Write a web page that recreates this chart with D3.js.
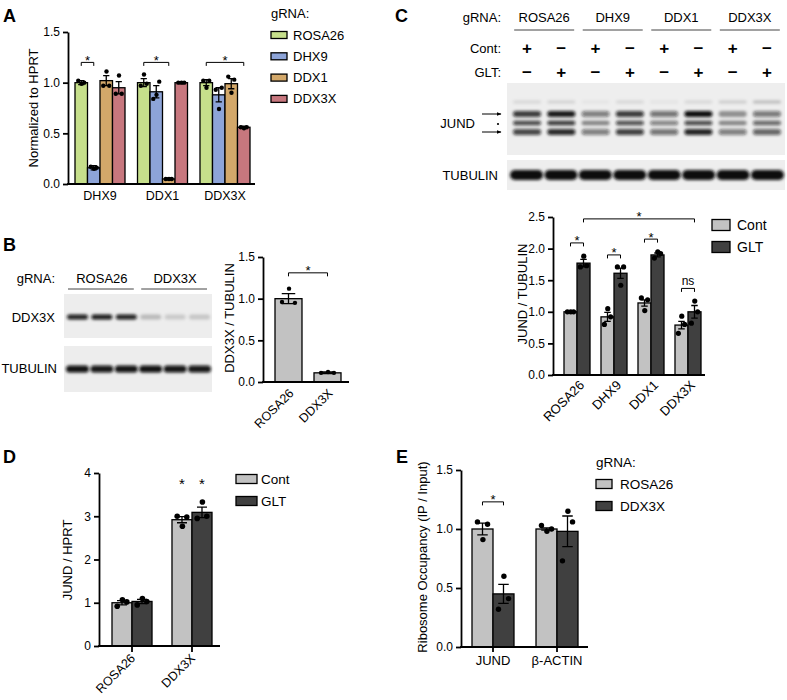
<!DOCTYPE html>
<html><head><meta charset="utf-8">
<script src="https://cdn.jsdelivr.net/npm/d3@7"></script>
<style>body{margin:0;background:#fff;} svg{display:block;font-family:"Liberation Sans",Arial,Helvetica,sans-serif;}</style>
</head><body><svg id="c" width="787" height="700"></svg>
<script>
// ================= DATA =================
// Panel A
const aGroups = ["DHX9","DDX1","DDX3X"];
const aSeries = ["ROSA26","DHX9","DDX1","DDX3X"];
const aColors = ["#c6df8b","#8da4d8","#d3a86a","#c7777e"];
const aMean = [[1.00,1.00,1.00],[0.16,0.91,0.88],[1.02,0.05,0.99],[0.95,1.00,0.56]];
const aErr  = [[0.02,0.04,0.03],[0.02,0.06,0.07],[0.05,0.01,0.05],[0.06,0.01,0.01]];
const aPts = [
 [[1.02,0.99,1.00],[0.97,1.08,0.99],[1.02,0.95,1.02]],
 [[0.17,0.15,0.16],[0.84,0.88,1.01],[0.93,0.74,0.95]],
 [[0.97,1.11,0.97],[0.05,0.05,0.05],[1.06,0.90,1.03]],
 [[0.89,1.07,0.89],[1.00,1.00,1.00],[0.56,0.55,0.56]]];
const aTicks = [0,0.5,1.0,1.5];
const aSig = [[0,0,0,1,1.2,"*"],[1,0,1,2,1.2,"*"],[2,0,2,3,1.2,"*"]];

// Panel B (blot + bar)
const bLanes = [0,1,2,3,4,5];
const bGroupsBlot = ["ROSA26","DDX3X"];
const bDDX3XBand = [0.92,0.95,0.92,0.22,0.15,0.17];
const bTubBand = [0.98,0.95,0.97,0.98,0.96,0.95];
const bGroups = ["ROSA26","DDX3X"];
const bSeries = ["val"];
const bMean = [[1.00,0.11]];
const bErr = [[0.06,0.01]];
const bPts = [[[0.96,1.12,0.95],[0.11,0.12,0.11]]];
const bTicks = [0,0.5,1.0,1.5];
const bSig = [[0,0,1,0,1.31,"*"]];

// Panel C (blot + bar)
const cBlotGroups = ["ROSA26","DHX9","DDX1","DDX3X"];
const cLanes = [0,1,2,3,4,5,6,7];
const cContSign = ["+","\u2212","+","\u2212","+","\u2212","+","\u2212"];
const cGltSign  = ["\u2212","+","\u2212","+","\u2212","+","\u2212","+"];
const cJundFaint = [0.10,0.12,0.04,0.10,0.05,0.10,0.15,0.22];
const cJundTop = [0.80,0.95,0.50,0.80,0.55,1.00,0.40,0.52];
const cJundMid = [0.75,0.82,0.45,0.72,0.50,0.75,0.45,0.62];
const cJundLow = [0.75,0.88,0.50,0.78,0.55,0.90,0.50,0.62];
const cTubBand = [1,1,1,1,1,1,1,1];
const cGroups = ["ROSA26","DHX9","DDX1","DDX3X"];
const cSeries = ["Cont","GLT"];
const cColors = ["#c2c2c2","#404040"];
const cMean = [[1.00,0.92,1.14,0.79],[1.77,1.61,1.90,1.00]];
const cErr  = [[0.00,0.07,0.05,0.06],[0.06,0.08,0.03,0.10]];
const cPts = [
 [[1.00,1.00,1.00],[0.80,1.05,0.92],[1.22,1.02,1.19],[0.66,0.93,0.80]],
 [[1.71,1.88,1.73],[1.71,1.42,1.71],[1.85,1.95,1.92],[0.82,1.17,1.00]]];
const cTicks = [0,0.5,1.0,1.5,2.0,2.5];
const cSig = [[0,0,0,1,2.09,"*"],[1,0,1,1,1.90,"*"],[2,0,2,1,2.15,"*"],[3,0,3,1,1.37,"ns"],[0,1,3,1,2.47,"*"]];

// Panel D
const dGroups = ["ROSA26","DDX3X"];
const dSeries = ["Cont","GLT"];
const dMean = [[1.00,2.92],[1.03,3.09]];
const dErr  = [[0.05,0.07],[0.05,0.12]];
const dPts = [[[0.92,1.07,1.02],[3.00,2.77,2.98]],[[0.95,1.10,1.03],[2.95,3.33,3.00]]];
const dTicks = [0,1,2,3,4];
const dStars = [[1,0,3.63,"*"],[1,1,3.63,"*"]];

// Panel E
const eGroups = ["JUND","\u03B2-ACTIN"];
const eSeries = ["ROSA26","DDX3X"];
const eMean = [[1.00,1.00],[0.45,0.98]];
const eErr  = [[0.05,0.01],[0.08,0.13]];
const ePts = [[[1.06,0.91,1.04],[1.03,0.98,1.00]],[[0.32,0.60,0.41],[0.73,1.15,1.06]]];
const eTicks = [0,0.5,1.0,1.5];
const eSig = [[0,0,0,1,1.23,"*"]];

// ================= DRAW =================
const svg = d3.select("#c");
const defs = svg.append("defs");
defs.append("filter").attr("id","blur").attr("x","-30%").attr("y","-200%").attr("width","160%").attr("height","500%")
  .append("feGaussianBlur").attr("stdDeviation",1.5);
defs.append("marker").attr("id","arr").attr("viewBox","0 0 10 10").attr("refX",9).attr("refY",5)
  .attr("markerWidth",5).attr("markerHeight",5).attr("orient","auto")
  .append("path").attr("d","M0,1 L10,5 L0,9 Z").attr("fill","#000");

function txt(x,y,s,o={}){
  return svg.append("text").attr("x",x).attr("y",y).attr("dy",o.dy||"0.35em")
    .attr("font-size",o.fs||13).attr("font-weight",o.fw||"normal")
    .attr("text-anchor",o.anchor||"start").attr("fill","#000").text(s);
}

function barPanel(c){
  const g = svg.append("g");
  const y = d3.scaleLinear().domain([0,c.yMax]).range([c.yB,c.yT]);
  const x0 = d3.scaleBand().domain(c.groups).range(c.gRange).paddingInner(c.pad).paddingOuter(0);
  const x1 = d3.scaleBand().domain(c.series).range([0,x0.bandwidth()]);
  const bw = x1.bandwidth();
  const cx = (gi,si)=> x0(c.groups[gi]) + x1(c.series[si]) + bw/2;
  const jit = [-0.24,0.02,0.24];
  c.series.forEach((s,si)=>c.groups.forEach((gr,gi)=>{
    const m=c.mean[si][gi];
    g.append("rect").attr("x",x0(gr)+x1(s)).attr("y",y(m)).attr("width",bw).attr("height",y(0)-y(m))
      .attr("fill",c.colors[si]).attr("stroke","#000").attr("stroke-width",1.3);
  }));
  c.series.forEach((s,si)=>c.groups.forEach((gr,gi)=>{
    const m=c.mean[si][gi], e=c.err[si][gi], x=cx(gi,si), cw=bw*0.25;
    if(e>0){
      g.append("path").attr("d",`M${x},${y(m-e)}V${y(m+e)}M${x-cw},${y(m+e)}H${x+cw}M${x-cw},${y(m-e)}H${x+cw}`)
        .attr("stroke","#000").attr("stroke-width",1.3).attr("fill","none");
    }
    c.pts[si][gi].forEach((p,pi)=>{
      g.append("circle").attr("cx",x+jit[pi]*bw).attr("cy",y(p)).attr("r",c.r).attr("fill","#000");
    });
  }));
  // y axis
  const ya = g.append("g").attr("transform",`translate(${c.axX},0)`)
    .call(d3.axisLeft(y).tickValues(c.ticks).tickFormat(d3.format(c.fmt)).tickSize(5).tickSizeOuter(0).tickPadding(3));
  ya.attr("font-family",null).attr("font-size",12);
  ya.selectAll("path,line").attr("stroke","#000").attr("stroke-width",1.8);
  ya.selectAll("text").attr("fill","#000");
  // x baseline
  g.append("line").attr("x1",c.axX-0.9).attr("x2",c.axEnd).attr("y1",y(0)).attr("y2",y(0))
    .attr("stroke","#000").attr("stroke-width",2);
  const xa = g.append("g").attr("transform",`translate(0,${y(0)})`)
    .call(d3.axisBottom(x0).tickSize(c.xTick).tickSizeOuter(0).tickPadding(c.xPad||4));
  xa.select(".domain").remove();
  xa.attr("font-family",null).attr("font-size",c.xfs);
  xa.selectAll("line").attr("stroke","#000").attr("stroke-width",1.8);
  xa.selectAll("text").attr("fill","#000");
  if(c.rot){
    xa.selectAll("text").attr("y",0).attr("dy",0).attr("text-anchor","end")
      .attr("transform",`translate(${c.rot[0]},${c.rot[1]}) rotate(-45)`);
  }
  // y label
  g.append("text").attr("transform",`translate(${c.ylx},${c.yly}) rotate(-90)`).attr("dy","0.35em")
    .attr("text-anchor","middle").attr("font-size",13).attr("fill","#000").text(c.ylab);
  // brackets
  (c.sig||[]).forEach(([g1,s1,g2,s2,lv,lab])=>{
    const xa1=cx(g1,s1), xa2=cx(g2,s2), yy=y(lv);
    g.append("path").attr("d",`M${xa1},${yy+3.5}V${yy}H${xa2}V${yy+3.5}`).attr("fill","none")
      .attr("stroke","#000").attr("stroke-width",1);
    g.append("text").attr("x",(xa1+xa2)/2).attr("y",lab==="*"?yy+2.5:yy-3).attr("text-anchor","middle")
      .attr("font-size",lab==="*"?13:12).attr("fill","#000").text(lab);
  });
  (c.stars||[]).forEach(([gi,si,lv,lab])=>{
    g.append("text").attr("x",cx(gi,si)).attr("y",y(lv)).attr("text-anchor","middle")
      .attr("font-size",15).attr("fill","#000").text(lab);
  });
  return {x0,x1,y};
}

function legend(x,yc,labels,colors,o){
  labels.forEach((l,i)=>{
    const yy = yc + i*o.step;
    svg.append("rect").attr("x",x).attr("y",yy-o.h/2).attr("width",o.w).attr("height",o.h)
      .attr("fill",colors[i]).attr("stroke","#000").attr("stroke-width",1.3);
    txt(x+o.w+o.gap, yy, l, {fs:o.fs||13});
  });
}

function bands(xs, vals, yc, h){
  vals.forEach((v,i)=>{
    svg.append("rect").attr("x",xs(i)).attr("y",yc-h/2).attr("width",xs.bandwidth()).attr("height",h)
      .attr("rx",h/2).attr("fill","#0d0d0d").attr("fill-opacity",v).attr("filter","url(#blur)");
  });
}

// ---------- Panel letters ----------
[["A",3,16],["B",3,245],["C",395,16],["D",3,457],["E",396,457]].forEach(([l,x,y])=>
  txt(x,y,l,{fs:18,fw:"bold"}));

// ---------- Panel A ----------
barPanel({groups:aGroups,series:aSeries,mean:aMean,err:aErr,pts:aPts,colors:aColors,
  yMax:1.5,yB:184,yT:32,gRange:[75,250],pad:0.2,axX:68,axEnd:255,ticks:aTicks,fmt:".1f",
  xTick:0,xPad:7,xfs:12.5,r:2.2,ylab:"Normalized to HPRT",ylx:33,yly:108,sig:aSig});
txt(271,13,"gRNA:",{fs:13});
legend(271,35,aSeries,aColors,{w:16,h:7,step:21.3,gap:6});

// ---------- Panel B blot ----------
const bx = d3.scaleBand().domain(bLanes).range([67,210]).paddingInner(0.14);
txt(55,278,"gRNA:",{anchor:"end"});
bGroupsBlot.forEach((gname,gi)=>{
  const l0 = bx(gi*3), l1 = bx(gi*3+2)+bx.bandwidth();
  txt((l0+l1)/2,278,gname,{anchor:"middle"});
  svg.append("line").attr("x1",l0+1).attr("x2",l1-3).attr("y1",289).attr("y2",289).attr("stroke","#444").attr("stroke-width",1);
});
svg.append("rect").attr("x",64).attr("y",294).attr("width",148).attr("height",44).attr("fill","#ededed");
svg.append("rect").attr("x",64).attr("y",346).attr("width",148).attr("height",46).attr("fill","#ededed");
bands(bx,bDDX3XBand,317,5);
const bxT = d3.scaleBand().domain(bLanes).range([66,211]).paddingInner(0.06);
bands(bxT,bTubBand,369,7);
txt(55,317,"DDX3X",{anchor:"end"});
txt(57,368,"TUBULIN",{anchor:"end"});

// ---------- Panel B bars ----------
barPanel({groups:bGroups,series:bSeries,mean:bMean,err:bErr,pts:bPts,colors:["#c2c2c2"],
  yMax:1.5,yB:382,yT:257,gRange:[275,341],pad:0.308,axX:263,axEnd:349,ticks:bTicks,fmt:".1f",
  xTick:0,xfs:12.5,rot:[6,12],r:2.2,ylab:"DDX3X / TUBULIN",ylx:229,yly:318,sig:bSig});

// ---------- Panel C blot ----------
const cx8 = d3.scaleBand().domain(cLanes).range([513,781]).paddingInner(0.18);
const lc = i=>cx8(i)+cx8.bandwidth()/2;
txt(501,17,"gRNA:",{anchor:"end"});
cBlotGroups.forEach((gname,gi)=>{
  const m=(lc(gi*2)+lc(gi*2+1))/2;
  txt(m,17,gname,{anchor:"middle"});
  svg.append("line").attr("x1",m-30).attr("x2",m+30).attr("y1",30).attr("y2",30).attr("stroke","#444").attr("stroke-width",1);
});
txt(501,48,"Cont:",{anchor:"end"});
txt(501,72,"GLT:",{anchor:"end"});
cLanes.forEach(i=>{
  txt(lc(i),48,cContSign[i],{anchor:"middle",fs:17,fw:"bold"});
  txt(lc(i),72,cGltSign[i],{anchor:"middle",fs:17,fw:"bold"});
});
svg.append("rect").attr("x",507).attr("y",83).attr("width",278).attr("height",72).attr("fill","#eeeeee");
svg.append("rect").attr("x",507).attr("y",160).attr("width",278).attr("height",30).attr("fill","#eeeeee");
bands(cx8,cJundFaint,102,3);
bands(cx8,cJundTop,114,6);
bands(cx8,cJundMid,123,4.5);
bands(cx8,cJundLow,132,6);
const cxT = d3.scaleBand().domain(cLanes).range([510,784]).paddingInner(0.04);
bands(cxT,cTubBand,175,10);
txt(475,123,"JUND",{anchor:"end"});
txt(498,175,"TUBULIN",{anchor:"end"});
svg.append("line").attr("x1",482).attr("x2",501).attr("y1",114).attr("y2",114).attr("stroke","#000").attr("stroke-width",1).attr("marker-end","url(#arr)");
svg.append("line").attr("x1",482).attr("x2",501).attr("y1",132).attr("y2",132).attr("stroke","#000").attr("stroke-width",1).attr("marker-end","url(#arr)");
svg.append("circle").attr("cx",498).attr("cy",124).attr("r",1.1).attr("fill","#000");

// ---------- Panel C bars ----------
barPanel({groups:cGroups,series:cSeries,mean:cMean,err:cErr,pts:cPts,colors:cColors,
  yMax:2.5,yB:375,yT:217,gRange:[564,701],pad:0.297,axX:553,axEnd:705,ticks:cTicks,fmt:".1f",
  xTick:0,xfs:13,rot:[8,11],r:2.6,ylab:"JUND / TUBULIN",ylx:522,yly:294,sig:cSig});
legend(712,225,cSeries,cColors,{w:18,h:11,step:22,gap:7,fs:14});

// ---------- Panel D ----------
barPanel({groups:dGroups,series:dSeries,mean:dMean,err:dErr,pts:dPts,colors:cColors,
  yMax:4,yB:646,yT:473,gRange:[112,212],pad:0.333,axX:99,axEnd:220,ticks:dTicks,fmt:"d",
  xTick:6,xfs:12.5,rot:[4,13],r:2.8,ylab:"JUND / HPRT",ylx:67,yly:560,stars:dStars});
legend(236,479,dSeries,cColors,{w:21,h:9,step:22,gap:4,fs:13.5});

// ---------- Panel E ----------
barPanel({groups:eGroups,series:eSeries,mean:eMean,err:eErr,pts:ePts,colors:cColors,
  yMax:1.5,yB:647,yT:470,gRange:[472,578],pad:0.344,axX:461,axEnd:588,ticks:eTicks,fmt:".1f",
  xTick:5,xPad:4,xfs:13,r:2.7,ylab:"Ribosome Occupancy (IP / Input)",ylx:422,yly:557,sig:eSig});
txt(596,462,"gRNA:",{fs:13.5});
legend(596,484,eSeries,cColors,{w:16,h:9,step:22,gap:8,fs:13.5});
</script></body></html>
